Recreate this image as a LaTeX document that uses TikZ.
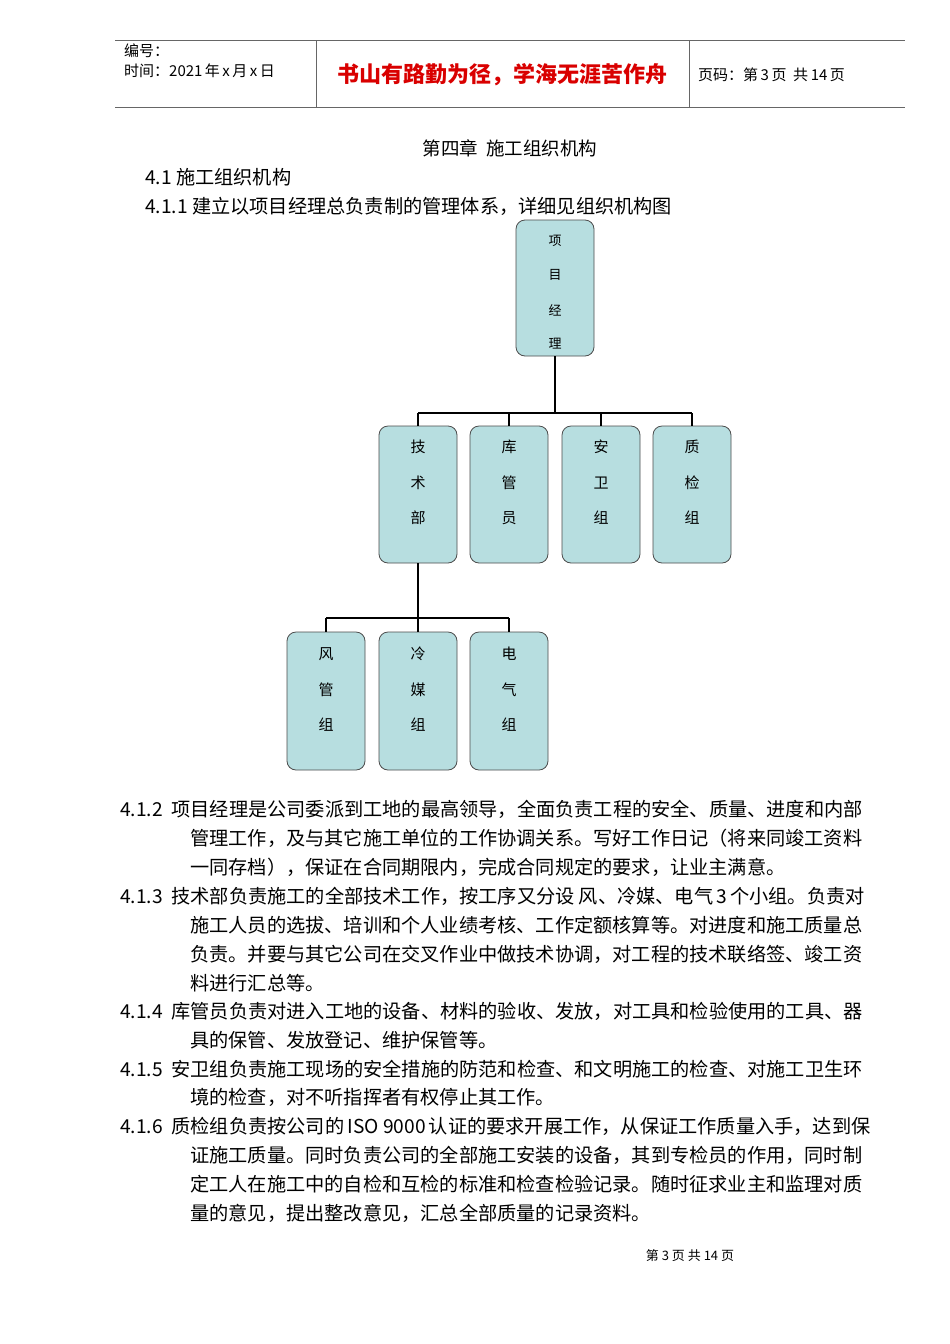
\documentclass[tikz,border=0pt]{standalone}
\usepackage{fontspec}
\setmainfont{Liberation Serif}
\newfontfamily\cjk{Noto Sans CJK SC}
\definecolor{boxfill}{RGB}{183,222,224}
\begin{document}
\begin{tikzpicture}[x=1pt,y=-1pt,
  box/.style={draw=black!70,fill=boxfill,rounded corners=9pt,line width=0.8pt},
  lab/.style={font=\cjk\fontsize{15}{15}\selectfont},
  body/.style={anchor=west,inner sep=0,font=\cjk\fontsize{19.2}{19.2}\selectfont},
  conn/.style={line width=2pt}]
\useasboundingbox (0,0) rectangle (950,1344);
\fill[white] (0,0) rectangle (950,1344);
% header
\draw[black!60] (115,40) -- (905,40) (115,107) -- (905,107) (316,40) -- (316,107) (689,40) -- (689,107);
\node[anchor=west,inner sep=0,font=\cjk\fontsize{15}{15}\selectfont] (h1) at (124,51) {编号：};
\node[anchor=west,inner sep=0,font=\cjk\fontsize{15}{15}\selectfont] (h2) at (124,71) {时间：2021\,年\,x\,月\,x\,日};
\node[inner sep=0,text=red!85!black,font=\cjk\bfseries\fontsize{22}{22}\selectfont] (h3) at (502,75) {书山有路勤为径，学海无涯苦作舟};
\node[anchor=west,inner sep=0,font=\cjk\fontsize{15}{15}\selectfont] (h4) at (698,75) {页码：第\,3\,页\ \ 共\,14\,页};
% titles
\node[inner sep=0,font=\cjk\fontsize{18.5}{18.5}\selectfont] (t) at (510,148) {第四章\ \ 施工组织机构};
\node[body] (s1) at (145,177) {4.1 施工组织机构};
\node[body] (s2) at (145,206) {4.1.1 建立以项目经理总负责制的管理体系，详细见组织机构图};
% boxes
\draw[box] (516,220) rectangle (594,356);
\node[lab,font=\cjk\fontsize{13}{13}\selectfont] (pm1) at (555,241) {项};
\node[lab,font=\cjk\fontsize{13}{13}\selectfont] (pm2) at (555,275) {目};
\node[lab,font=\cjk\fontsize{13}{13}\selectfont] (pm3) at (555,310) {经};
\node[lab,font=\cjk\fontsize{13}{13}\selectfont] (pm4) at (555,344) {理};
\coordinate (pm) at (555,356);
\foreach \n/\x/\a/\b/\c in {js/418/技/术/部, kg/509/库/管/员, aw/601/安/卫/组, zj/692/质/检/组}{
  \draw[box] (\x-39,426) rectangle (\x+39,563);
  \node[lab] (\n1) at (\x,447) {\a};
  \node[lab] (\n2) at (\x,483) {\b};
  \node[lab] (\n3) at (\x,518) {\c};
  \coordinate (\n) at (\x,426);
}
\foreach \n/\x/\a/\b/\c in {fg/326/风/管/组, lm/418/冷/媒/组, dq/509/电/气/组}{
  \draw[box] (\x-39,632) rectangle (\x+39,770);
  \node[lab] (\n1) at (\x,654) {\a};
  \node[lab] (\n2) at (\x,690) {\b};
  \node[lab] (\n3) at (\x,725) {\c};
  \coordinate (\n) at (\x,632);
}
\coordinate (jsb) at (418,563);
\draw[conn] (pm) -- (555,413);
\draw[conn] (418,413) -- (692,413);
\foreach \n in {js,kg,aw,zj} \draw[conn] (\n |- 0,413) -- (\n);
\draw[conn] (jsb) -- (lm);
\draw[conn] (326,618) -- (509,618);
\foreach \n in {fg,dq} \draw[conn] (\n |- 0,618) -- (\n);
% body text
\node[body] (p1) at (120,809) {4.1.2\ \ 项目经理是公司委派到工地的最高领导，全面负责工程的安全、质量、进度和内部};
\node[body] (p2) at (190,838) {管理工作，及与其它施工单位的工作协调关系。写好工作日记（将来同竣工资料};
\node[body] (p3) at (190,867) {一同存档），保证在合同期限内，完成合同规定的要求，让业主满意。};
\node[body] (p4) at (120,896) {4.1.3\ \ 技术部负责施工的全部技术工作，按工序又分设 风、冷媒、电气\,3\,个小组。负责对};
\node[body] (p5) at (190,925) {施工人员的选拔、培训和个人业绩考核、工作定额核算等。对进度和施工质量总};
\node[body] (p6) at (190,954) {负责。并要与其它公司在交叉作业中做技术协调，对工程的技术联络签、竣工资};
\node[body] (p7) at (190,983) {料进行汇总等。};
\node[body] (p8) at (120,1011) {4.1.4\ \ 库管员负责对进入工地的设备、材料的验收、发放，对工具和检验使用的工具、器};
\node[body] (p9) at (190,1040) {具的保管、发放登记、维护保管等。};
\node[body] (p10) at (120,1069) {4.1.5\ \ 安卫组负责施工现场的安全措施的防范和检查、和文明施工的检查、对施工卫生环};
\node[body] (p11) at (190,1097) {境的检查，对不听指挥者有权停止其工作。};
\node[body] (p12) at (120,1126) {4.1.6\ \ 质检组负责按公司的\,ISO 9000\,认证的要求开展工作，从保证工作质量入手，达到保};
\node[body] (p13) at (190,1155) {证施工质量。同时负责公司的全部施工安装的设备，其到专检员的作用，同时制};
\node[body] (p14) at (190,1184) {定工人在施工中的自检和互检的标准和检查检验记录。随时征求业主和监理对质};
\node[body] (p15) at (190,1213) {量的意见，提出整改意见，汇总全部质量的记录资料。};
\node[inner sep=0,font=\cjk\fontsize{13}{13}\selectfont] (ft) at (690,1256) {第\ 3\ 页\ 共\ 14\ 页};
\end{tikzpicture}
\end{document}
